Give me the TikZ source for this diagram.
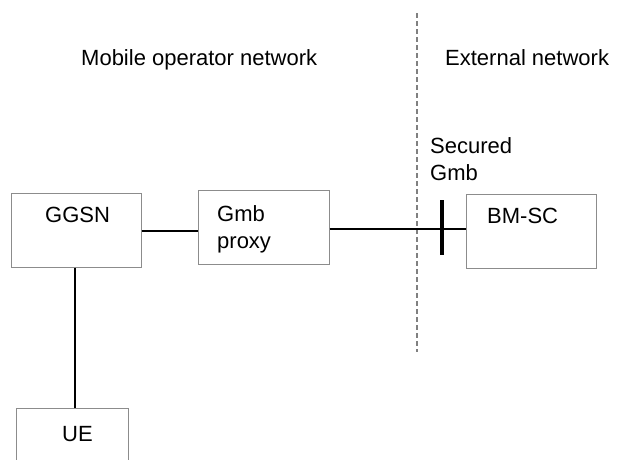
\documentclass[tikz,border=0pt]{standalone}
\usepackage{fontspec}
\setmainfont{Liberation Sans}
\begin{document}
\begin{tikzpicture}[x=1pt,y=-1pt,
  box/.style={draw=black!45,line width=1pt,inner sep=0pt},
  conn/.style={draw=black,line width=1.3pt},
  lbl/.style={inner sep=0pt,anchor=base west,font=\fontsize{22}{27}\selectfont,align=left}]
\useasboundingbox (0,0) rectangle (621,459);
\clip (0,0) rectangle (621,459);
% boxes
\node[box,minimum width=130pt,minimum height=74pt] (ggsn) at (76,230) {};
\node[box,minimum width=131pt,minimum height=74pt] (proxy) at (263.5,227) {};
\node[box,minimum width=130pt,minimum height=74pt] (bmsc) at (531,231) {};
\node[box,minimum width=112pt,minimum height=80pt] (ue) at (72,448) {};
% texts
\node[lbl] (tmob) at (81,65) {Mobile operator network};
\node[lbl] (text) at (445,65) {External network};
\node[lbl] (tggsn) at (45,222.5) {GGSN};
\node[lbl,anchor=north west] (tproxy) at (217,205) {\rule{0pt}{16pt}Gmb\\proxy};
\node[lbl] (tbmsc) at (487,223) {BM-SC};
\node[lbl,anchor=north west] (tsec) at (430,137) {\rule{0pt}{16pt}Secured\\Gmb};
\node[lbl] (tue) at (62,441) {UE};
% dashed boundary
\coordinate (dtop) at (417,13);
\coordinate (dbot) at (417,352);
\draw[black!50,line width=1.2pt,dash pattern=on 5pt off 3pt] (dtop) -- (dbot);
% connectors
\coordinate (y1) at (0,231);
\coordinate (y2) at (0,229);
\coordinate (xv) at (75,0);
\draw[conn] (ggsn.east |- y1) -- (proxy.west |- y1);
\draw[conn] (proxy.east |- y2) -- (bmsc.west |- y2);
\draw[conn] (ggsn.south -| xv) -- (ue.north -| xv);
% secured bar
\coordinate (bt) at (442,200);
\coordinate (bb) at (442,255);
\draw[black,line width=4.5pt] (bt) -- (bb);
\end{tikzpicture}
\end{document}
